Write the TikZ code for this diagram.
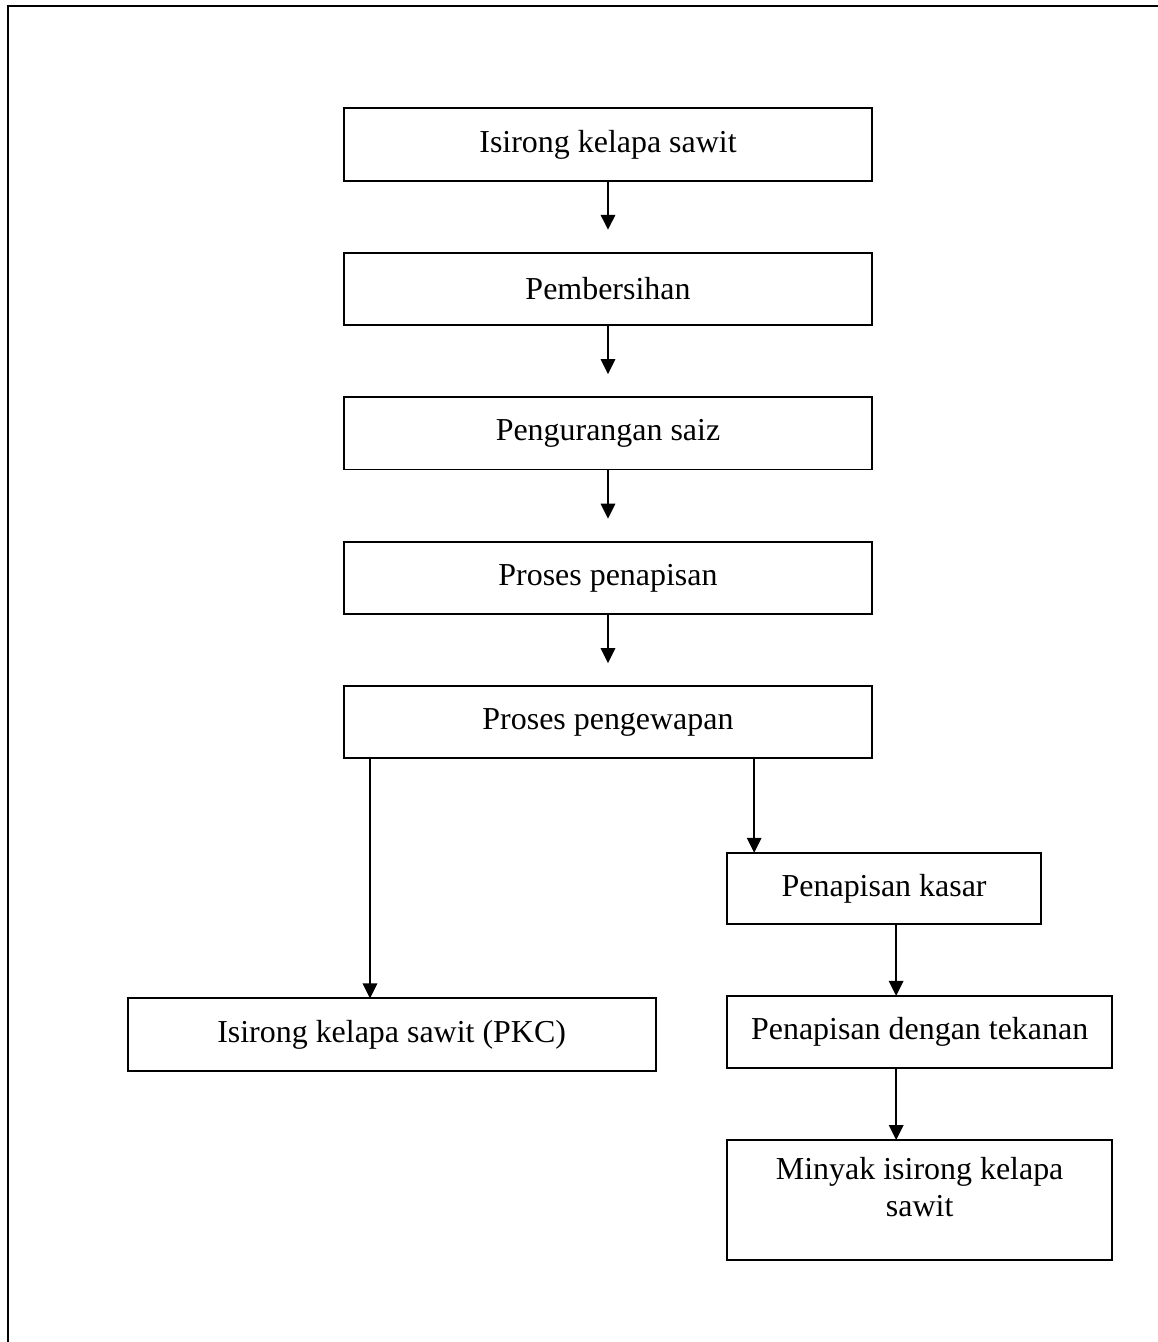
\documentclass[tikz,border=0pt]{standalone}
\usepackage{fontspec}
\setmainfont{Liberation Serif}
\usepackage{tikz}
\usetikzlibrary{arrows.meta,positioning,calc}

\begin{document}
\begin{tikzpicture}[
    every node/.style={font=\fontsize{11.5}{13.3}\selectfont},
    procbox/.style={draw,line width=0.7pt,minimum width=190.1pt,minimum height=26pt,
                    inner sep=0pt,outer sep=0pt,align=center},
    arrow/.style={-{Triangle[length=5.4pt,width=5.2pt]},line width=0.7pt}
  ]
    \useasboundingbox (0,0) rectangle (416.88pt,-483.12pt);
    \draw[line width=0.9pt] (416.88pt,-2.16pt) -| (2.88pt,-483.12pt);

    \node[procbox] (p1) at (218.88pt,-52.02pt) {Isirong kelapa sawit};
    \node[procbox, below=26pt of p1] (p2) {Pembersihan};
    \node[procbox, below=26pt of p2] (p3) {Pengurangan saiz};
    \node[procbox, below=26pt of p3] (p4) {Proses penapisan};
    \node[procbox, below=26pt of p4] (p5) {Proses pengewapan};
    \node[procbox, minimum width=113pt, minimum height=25.6pt, below=34pt of p5, xshift=99.4pt] (kasar) {Penapisan kasar};
    \node[procbox, below=86.4pt of p5, xshift=-77.9pt] (pkc) {Isirong kelapa sawit (PKC)};
    \node[procbox, minimum width=138.6pt, below=25.9pt of kasar, xshift=12.8pt] (tekanan) {Penapisan dengan tekanan};
    \node[procbox, minimum width=138.6pt, minimum height=43.2pt, text depth=9.4pt,
          below=25.9pt of tekanan] (minyak) {Minyak isirong kelapa\\sawit};

    \draw[arrow, shorten >=8.3pt] (p1) -- (p2);
    \draw[arrow, shorten >=8.3pt] (p2) -- (p3);
    \draw[arrow, shorten >=8.3pt] (p3) -- (p4);
    \draw[arrow, shorten >=8.3pt] (p4) -- (p5);
    \draw[arrow] ([xshift=9.36pt]p5.south west) -- ([xshift=9.36pt]p5.south west |- pkc.north);
    \draw[arrow] ([xshift=9.72pt]kasar.north west |- p5.south) -- ([xshift=9.72pt]kasar.north west);
    \draw[arrow] ([xshift=60.84pt]kasar.south west) -- ([xshift=60.84pt]kasar.south west |- tekanan.north);
    \draw[arrow] ([xshift=60.84pt]tekanan.south west) -- ([xshift=60.84pt]tekanan.south west |- minyak.north);
  \end{tikzpicture}
\end{document}
